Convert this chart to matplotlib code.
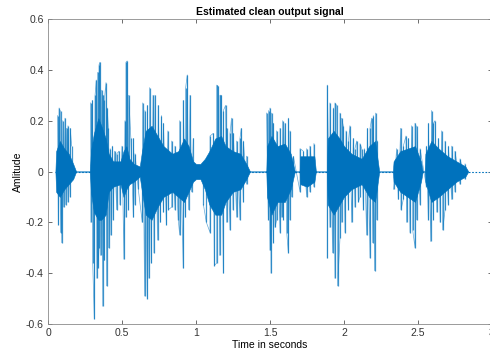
import matplotlib
matplotlib.use("Agg")
import matplotlib.pyplot as plt
import numpy as np

plt.rcParams['font.family'] = ['Liberation Sans', 'DejaVu Sans']

# Dense core of the waveform: time, upper level, lower level
core_t = [0.05, 0.055, 0.08, 0.11, 0.14, 0.17, 0.19,
          0.283, 0.29, 0.31, 0.34, 0.36, 0.39, 0.41, 0.44, 0.49, 0.51, 0.53, 0.55, 0.58, 0.62,
          0.635, 0.66, 0.70, 0.74, 0.78, 0.84, 0.88, 0.92, 0.95, 0.98, 1.00, 1.03,
          1.06, 1.09, 1.13, 1.17, 1.20, 1.25, 1.30, 1.34, 1.365,
          1.475, 1.48, 1.51, 1.55, 1.60, 1.64, 1.668,
          1.70, 1.705, 1.75, 1.80, 1.81,
          1.885, 1.89, 1.93, 1.97, 2.00, 2.05, 2.12, 2.17, 2.21, 2.238,
          2.33, 2.335, 2.38, 2.43, 2.48, 2.52, 2.532,
          2.545, 2.55, 2.59, 2.64, 2.70, 2.76, 2.82, 2.84]
core_hi = [0.0, 0.08, 0.12, 0.09, 0.07, 0.03, 0.0,
           0.0, 0.08, 0.15, 0.21, 0.18, 0.13, 0.07, 0.04, 0.04, 0.08, 0.10, 0.05, 0.03, 0.02,
           0.08, 0.16, 0.18, 0.14, 0.10, 0.07, 0.08, 0.13, 0.10, 0.04, 0.03, 0.03,
           0.05, 0.08, 0.13, 0.14, 0.10, 0.08, 0.07, 0.03, 0.0,
           0.0, 0.10, 0.14, 0.10, 0.11, 0.07, 0.0,
           0.0, 0.06, 0.06, 0.06, 0.0,
           0.0, 0.13, 0.16, 0.13, 0.10, 0.07, 0.05, 0.10, 0.12, 0.0,
           0.0, 0.04, 0.08, 0.09, 0.10, 0.04, 0.0,
           0.0, 0.07, 0.12, 0.09, 0.06, 0.04, 0.02, 0.0]
core_lo = [0.0, -0.08, -0.10, -0.07, -0.05, -0.03, 0.0,
           0.0, -0.08, -0.16, -0.19, -0.19, -0.17, -0.08, -0.06, -0.05, -0.10, -0.07, -0.05, -0.04, -0.02,
           -0.08, -0.17, -0.19, -0.14, -0.10, -0.08, -0.10, -0.12, -0.08, -0.04, -0.03, -0.03,
           -0.07, -0.13, -0.17, -0.17, -0.12, -0.08, -0.07, -0.03, 0.0,
           0.0, -0.10, -0.17, -0.12, -0.12, -0.07, 0.0,
           0.0, -0.05, -0.06, -0.04, 0.0,
           0.0, -0.13, -0.17, -0.13, -0.10, -0.07, -0.05, -0.10, -0.12, 0.0,
           0.0, -0.04, -0.08, -0.10, -0.12, -0.04, 0.0,
           0.0, -0.04, -0.12, -0.10, -0.07, -0.04, -0.02, 0.0]

# Positive peaks (time, amplitude)
up_t = [0.065, 0.075, 0.085, 0.10, 0.115, 0.125, 0.135, 0.15, 0.16,
        0.288, 0.30, 0.318, 0.326, 0.336, 0.345, 0.351, 0.362, 0.372, 0.38, 0.392, 0.40, 0.408,
        0.42, 0.435, 0.45, 0.465, 0.48, 0.50, 0.52, 0.527, 0.535, 0.545, 0.56, 0.577, 0.588,
        0.64, 0.655, 0.672, 0.687, 0.71, 0.723, 0.745, 0.766, 0.78, 0.81, 0.836, 0.858, 0.89,
        0.914, 0.93, 0.941, 0.96, 0.982,
        1.095, 1.117, 1.14, 1.149, 1.162, 1.171, 1.185, 1.20, 1.207, 1.23, 1.24, 1.252,
        1.275, 1.297, 1.306, 1.32, 1.342,
        1.477, 1.49, 1.50, 1.511, 1.523, 1.545, 1.568, 1.586, 1.602, 1.624, 1.635, 1.658,
        1.703, 1.725, 1.748, 1.77, 1.797,
        1.887, 1.905, 1.928, 1.939, 1.95, 1.973, 1.984, 1.995, 2.014, 2.03, 2.04, 2.063,
        2.074, 2.086, 2.108, 2.12, 2.137, 2.158, 2.176, 2.187, 2.198, 2.214, 2.225,
        2.356, 2.383, 2.401, 2.419, 2.435, 2.457, 2.48, 2.491, 2.514,
        2.557, 2.57, 2.592, 2.604, 2.615, 2.638, 2.66, 2.683, 2.705, 2.728, 2.75, 2.784, 2.818]
up_a = [0.22, 0.25, 0.24, 0.20, 0.21, 0.17, 0.18, 0.17, 0.10,
        0.27, 0.28, 0.30, 0.36, 0.39, 0.42, 0.43, 0.32, 0.30, 0.28, 0.35, 0.25, 0.17,
        0.09, 0.10, 0.08, 0.07, 0.08, 0.10, 0.20, 0.43, 0.435, 0.30, 0.13, 0.13, 0.07,
        0.27, 0.24, 0.26, 0.33, 0.30, 0.30, 0.26, 0.22, 0.19, 0.16, 0.12, 0.10, 0.20,
        0.28, 0.33, 0.38, 0.30, 0.13,
        0.14, 0.15, 0.34, 0.335, 0.30, 0.30, 0.24, 0.26, 0.17, 0.15, 0.21, 0.15,
        0.12, 0.13, 0.17, 0.12, 0.06,
        0.23, 0.24, 0.25, 0.23, 0.19, 0.16, 0.17, 0.20, 0.19, 0.21, 0.16, 0.06,
        0.09, 0.08, 0.09, 0.10, 0.11,
        0.34, 0.27, 0.25, 0.27, 0.26, 0.23, 0.21, 0.18, 0.16, 0.12, 0.18, 0.13,
        0.09, 0.12, 0.11, 0.09, 0.09, 0.17, 0.17, 0.21, 0.22, 0.23, 0.12,
        0.09, 0.17, 0.10, 0.14, 0.13, 0.18, 0.19, 0.18, 0.09,
        0.10, 0.19, 0.24, 0.19, 0.20, 0.13, 0.16, 0.12, 0.10, 0.10, 0.08, 0.05, 0.03]

# Negative peaks (time, amplitude)
dn_t = [0.07, 0.085, 0.093, 0.105, 0.12, 0.135, 0.15,
        0.29, 0.302, 0.313, 0.33, 0.338, 0.345, 0.355, 0.37, 0.38, 0.396, 0.41, 0.425, 0.44,
        0.464, 0.486, 0.513, 0.527, 0.543, 0.577, 0.588, 0.61,
        0.637, 0.653, 0.671, 0.682, 0.698, 0.716, 0.74, 0.76, 0.78, 0.80, 0.813, 0.836, 0.858,
        0.88, 0.89, 0.914, 0.928, 0.95, 0.97,
        1.05, 1.07, 1.095, 1.124, 1.14, 1.16, 1.185, 1.207, 1.23, 1.25, 1.275, 1.297, 1.32, 1.342,
        1.489, 1.50, 1.507, 1.523, 1.534, 1.545, 1.568, 1.579, 1.59, 1.613, 1.624, 1.635, 1.646,
        1.703, 1.748, 1.77, 1.797,
        1.887, 1.905, 1.923, 1.939, 1.957, 1.973, 1.984, 2.007, 2.03, 2.052, 2.074, 2.097,
        2.108, 2.131, 2.153, 2.176, 2.194, 2.207, 2.221,
        2.335, 2.367, 2.385, 2.401, 2.423, 2.446, 2.464, 2.48, 2.491, 2.514,
        2.557, 2.57, 2.586, 2.604, 2.627, 2.65, 2.667, 2.683, 2.705, 2.728, 2.75, 2.784, 2.818]
dn_a = [-0.21, -0.24, -0.28, -0.14, -0.13, -0.12, -0.10,
        -0.20, -0.36, -0.58, -0.42, -0.38, -0.30, -0.33, -0.53, -0.35, -0.45, -0.30, -0.25, -0.19,
        -0.15, -0.13, -0.345, -0.18, -0.15, -0.18, -0.13, -0.07,
        -0.20, -0.49, -0.50, -0.42, -0.36, -0.32, -0.27, -0.20, -0.16, -0.21, -0.15, -0.14, -0.15,
        -0.19, -0.25, -0.38, -0.18, -0.15, -0.08,
        -0.13, -0.20, -0.24, -0.37, -0.36, -0.33, -0.40, -0.20, -0.23, -0.15, -0.18, -0.19, -0.12, -0.05,
        -0.19, -0.31, -0.40, -0.28, -0.22, -0.19, -0.24, -0.18, -0.19, -0.24, -0.32, -0.19, -0.10,
        -0.08, -0.10, -0.08, -0.06,
        -0.34, -0.22, -0.32, -0.42, -0.45, -0.26, -0.20, -0.24, -0.15, -0.20, -0.14, -0.12,
        -0.10, -0.15, -0.25, -0.34, -0.28, -0.39, -0.19,
        -0.07, -0.11, -0.15, -0.11, -0.20, -0.24, -0.23, -0.30, -0.19, -0.13,
        -0.06, -0.19, -0.275, -0.19, -0.16, -0.20, -0.23, -0.15, -0.13, -0.11, -0.08, -0.05, -0.03]

x_ticks = [0, 0.5, 1, 1.5, 2, 2.5, 3]
x_ticklabels = ['0', '0.5', '1', '1.5', '2', '2.5', '3']
y_ticks = [-0.6, -0.4, -0.2, 0, 0.2, 0.4, 0.6]
y_ticklabels = ['-0.6', '-0.4', '-0.2', '0', '0.2', '0.4', '0.6']

blue = '#0072BD'
W, H = 490, 354
fig = plt.figure(figsize=(W / 100, H / 100), dpi=100)
ax = fig.add_axes([48 / W, 30 / H, 444 / W, 305 / H])

# silence / zero line
ax.plot([0.05, 2.98], [0, 0], color=blue, lw=0.8, ls=(0, (1.5, 1.5)))
ax.fill_between(core_t, core_lo, core_hi, color=blue, lw=0.4, ec=blue)
ax.vlines(up_t, 0, up_a, color=blue, lw=0.9, alpha=0.75)
ax.vlines(dn_t, dn_a, 0, color=blue, lw=0.9, alpha=0.75)

# oscillating trace through the peaks, in time order, broken at silent gaps
peaks = sorted(zip(up_t + dn_t, up_a + dn_a))
pk_t, pk_a = [], []
for i, (t, a) in enumerate(peaks):
    if i > 0 and t - peaks[i - 1][0] > 0.05:
        pk_t.append(np.nan)
        pk_a.append(np.nan)
    pk_t.append(t)
    pk_a.append(a)
ax.plot(pk_t, pk_a, color=blue, lw=0.5, alpha=0.6)

ax.set_xlim(0, 3)
ax.set_ylim(-0.6, 0.6)
ax.set_xticks(x_ticks)
ax.set_xticklabels(x_ticklabels)
ax.set_yticks(y_ticks)
ax.set_yticklabels(y_ticklabels)
ax.tick_params(direction='in', length=3, width=0.6, colors='#555555', labelsize=7.5,
               top=True, right=True, pad=3, labelcolor='#333333')
for s in ax.spines.values():
    s.set_color('#8a8a8a')
    s.set_linewidth(0.6)

ax.set_title('Estimated clean output signal', fontsize=7.5, fontweight='bold', pad=3)
ax.set_xlabel('Time in seconds', fontsize=7.5, labelpad=1)
ax.set_ylabel('Amlitude', fontsize=7.5, labelpad=2)

fig.savefig('out.png', dpi=100)
